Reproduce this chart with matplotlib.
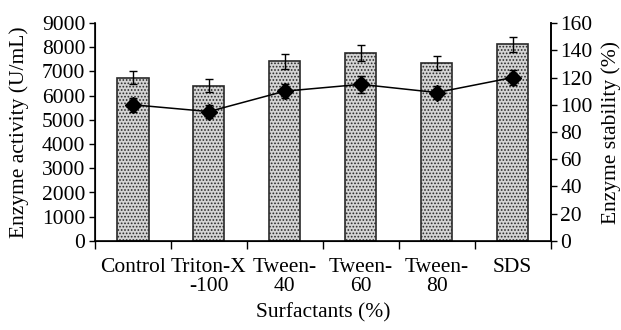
import matplotlib
matplotlib.use("Agg")
import matplotlib.pyplot as plt
import numpy as np

categories = ["Control", "Triton-X\n-100", "Tween-\n40", "Tween-\n60", "Tween-\n80", "SDS"]
activity = [6750, 6420, 7420, 7770, 7350, 8120]
activity_err = [280, 260, 300, 320, 290, 310]
stability = [100, 95, 110, 115, 109, 120]
stability_err = [5, 5, 5, 6, 5, 5.5]

plt.rcParams['font.family'] = ['Liberation Serif', 'DejaVu Serif']
plt.rcParams['font.size'] = 15.5
plt.rcParams['hatch.color'] = '#707070'
plt.rcParams['hatch.linewidth'] = 0.8

fig = plt.figure(figsize=(6.21, 3.30), dpi=100)
ax = fig.add_axes([0.153, 0.270, 0.7335, 0.660])
x = np.arange(len(categories))

ax.bar(x, activity, width=0.41, color='#d4d4d4', edgecolor='#2a2a2a', linewidth=1.2,
       hatch='.....', yerr=activity_err, capsize=3,
       error_kw=dict(ecolor='black', elinewidth=1, capthick=1), zorder=2)
ax.set_xlim(-0.5, len(categories) - 0.5)
ax.set_ylim(0, 9000)
ax.set_yticks(np.arange(0, 9001, 1000))
ax.set_xticks(np.arange(-0.5, len(categories), 1.0))
ax.set_xticklabels([])
ax.set_xticks(x, minor=True)
ax.set_xticklabels(categories, minor=True, linespacing=1.05)
ax.tick_params(axis='x', which='minor', length=0, pad=12)
ax.tick_params(axis='x', which='major', direction='out', length=6, width=1)
ax.tick_params(axis='y', direction='out', length=4, width=1, pad=3)
ax.spines['top'].set_visible(False)
for s in ['left', 'bottom', 'right']:
    ax.spines[s].set_linewidth(1.2)
ax.set_ylabel("Enzyme activity (U/mL)", labelpad=9)
ax.set_xlabel("Surfactants (%)", labelpad=5)

ax2 = ax.twinx()
ax2.errorbar(x, stability, yerr=stability_err, color='black', marker='D', markersize=8,
             linewidth=1.1, capsize=3, elinewidth=1, capthick=1, zorder=3)
ax2.set_ylim(0, 160)
ax2.set_yticks(np.arange(0, 161, 20))
ax2.tick_params(axis='y', direction='out', length=4, width=1, pad=3)
ax2.spines['top'].set_visible(False)
ax2.spines['right'].set_linewidth(1.2)
ax2.set_ylabel("Enzyme stability (%)", labelpad=6)

fig.savefig("out.png", dpi=100)
